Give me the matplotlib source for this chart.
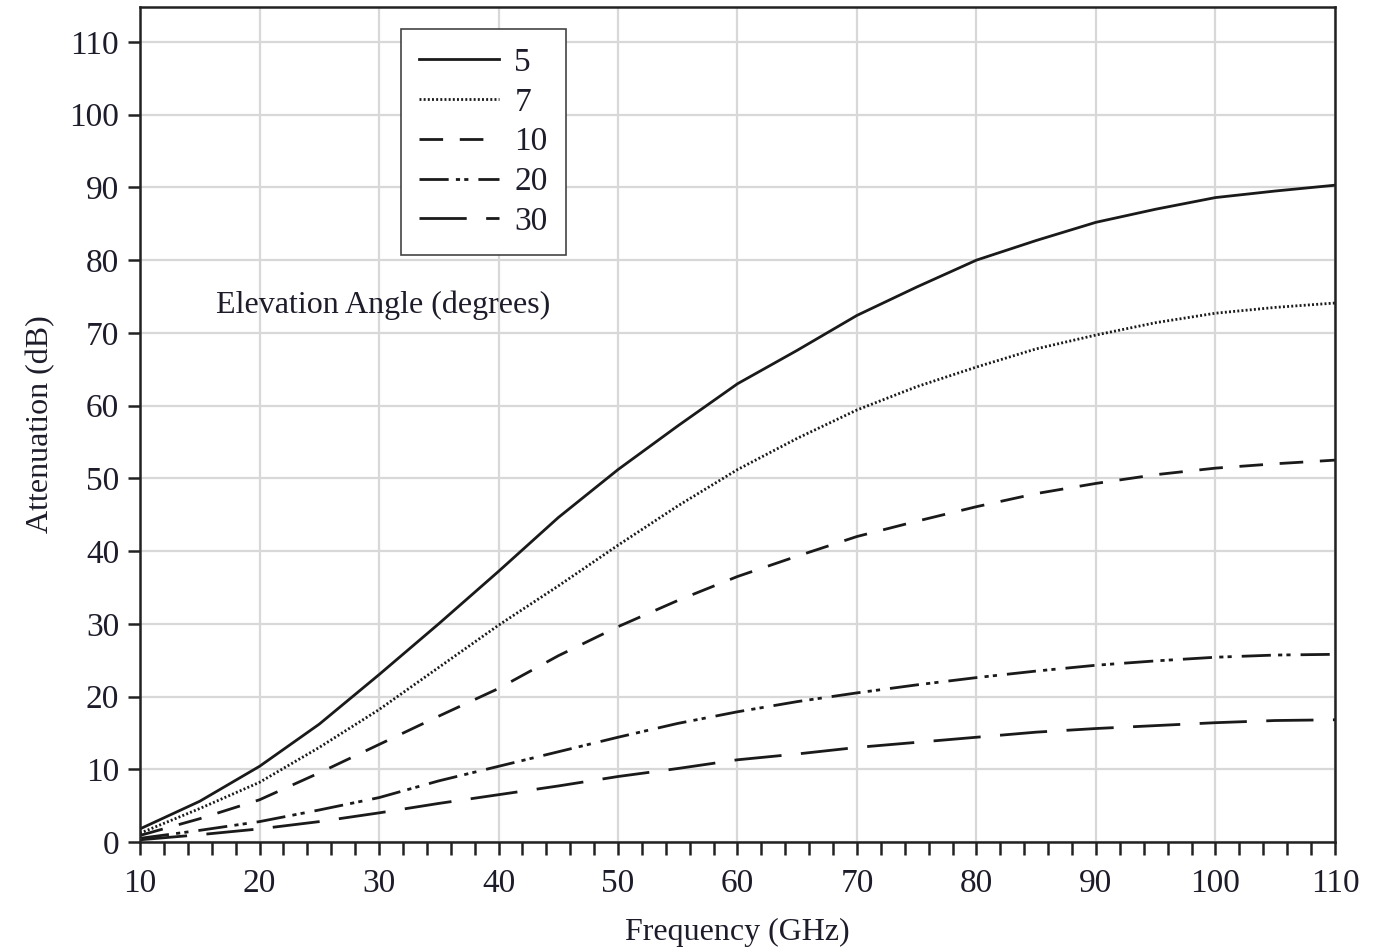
import numpy as np
import matplotlib.pyplot as plt
from matplotlib.ticker import MultipleLocator

plt.rcParams['font.family'] = ['Liberation Serif', 'DejaVu Serif']

# frequency (GHz)
freq = [10, 15, 20, 25, 30, 35, 40, 45, 50, 55, 60,
        65, 70, 75, 80, 85, 90, 95, 100, 105, 110]

# attenuation (dB) per elevation angle (degrees)
att_5 = [1.8, 5.6, 10.4, 16.2, 23.0, 30.0, 37.2, 44.6, 51.2, 57.2, 63.0,
         67.6, 72.4, 76.3, 80.0, 82.7, 85.2, 87.0, 88.6, 89.5, 90.3]
att_7 = [1.2, 4.6, 8.2, 13.0, 18.2, 24.0, 29.8, 35.2, 40.8, 46.2, 51.2,
         55.5, 59.4, 62.6, 65.3, 67.8, 69.7, 71.4, 72.7, 73.5, 74.1]
att_10 = [0.9, 3.2, 5.8, 9.5, 13.4, 17.3, 21.1, 25.6, 29.6, 33.2, 36.5,
          39.3, 42.0, 44.1, 46.1, 47.9, 49.3, 50.5, 51.4, 52.0, 52.5]
att_20 = [0.5, 1.6, 2.8, 4.4, 6.1, 8.4, 10.4, 12.4, 14.4, 16.3, 17.9,
          19.3, 20.5, 21.6, 22.6, 23.5, 24.3, 24.9, 25.4, 25.7, 25.8]
att_30 = [0.3, 1.0, 1.8, 2.8, 4.0, 5.3, 6.5, 7.7, 9.0, 10.1, 11.3,
          12.1, 13.0, 13.7, 14.4, 15.1, 15.6, 16.0, 16.4, 16.7, 16.8]

angles = ['5', '7', '10', '20', '30']
series = [att_5, att_7, att_10, att_20, att_30]

line_color = '#1a1a1a'
text_color = '#1c1c2a'
styles = [
    '-',
    (0, (0.7, 0.8)),
    (0, (8.5, 6.0)),
    (0, (10.5, 2.6, 1.5, 1.5, 1.5, 3.6)),
    (0, (17, 7)),
]

fig = plt.figure(figsize=(13.74, 9.47), dpi=100)
ax = fig.add_axes([0.1019, 0.1109, 0.8697, 0.8817])

for vals, ls, lab in zip(series, styles, angles):
    ax.plot(freq, vals, color=line_color, linestyle=ls, linewidth=2.0, label=lab)

ax.set_xlim(10, 110)
ax.set_ylim(0, 114.8)
ax.xaxis.set_major_locator(MultipleLocator(10))
ax.xaxis.set_minor_locator(MultipleLocator(2))
ax.set_yticks(np.arange(0, 111, 10))

ax.grid(True, which='major', color='#d8d8d8', linewidth=1.6)
ax.set_axisbelow(True)

for sp in ax.spines.values():
    sp.set_linewidth(1.8)
    sp.set_color('#222222')

ax.tick_params(axis='both', which='both', direction='out', length=9, width=1.8,
               color='#222222', labelsize=24, labelcolor=text_color)
ax.tick_params(axis='x', which='major', pad=10)
ax.tick_params(axis='y', which='major', pad=6)

ax.set_xlabel('Frequency (GHz)', fontsize=23, color=text_color, labelpad=14)
ax.set_ylabel('Attenuation (dB)', fontsize=23, color=text_color, labelpad=10)

ax.text(16.4, 73.8, 'Elevation Angle (degrees)', fontsize=23, color=text_color,
        ha='left', va='center')

leg = ax.legend(loc='upper left', bbox_to_anchor=(0.2184, 0.9737), fontsize=24,
                handlelength=2.4, handletextpad=0.45, labelspacing=0.28,
                borderpad=0.55, borderaxespad=0, frameon=True, fancybox=False,
                framealpha=1)
leg.get_frame().set_edgecolor('#444444')
leg.get_frame().set_linewidth(1.2)
for t in leg.get_texts():
    t.set_color(text_color)

plt.savefig('out.png', dpi=100)
